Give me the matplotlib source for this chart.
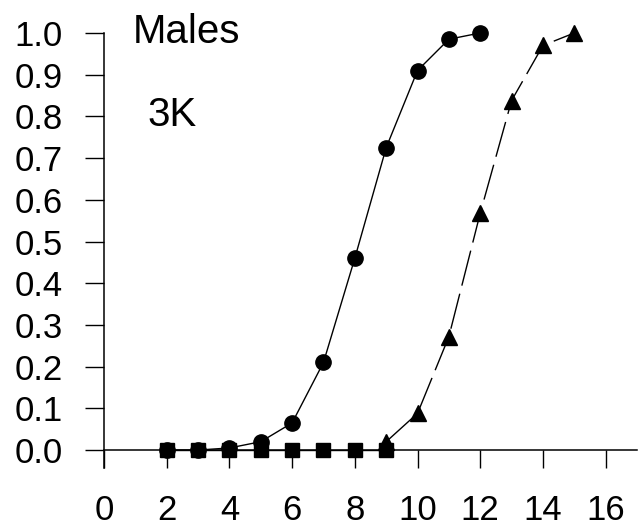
import matplotlib
matplotlib.use("Agg")
import matplotlib.pyplot as plt

# Cumulative proportion of males by age (3K)
x_circle = [2, 3, 4, 5, 6, 7, 8, 9, 10, 11, 12]
y_circle = [0.0, 0.0, 0.005, 0.02, 0.065, 0.21, 0.46, 0.725, 0.91, 0.985, 1.0]

x_triangle = [9, 10, 11, 12, 13, 14, 15]
y_triangle = [0.02, 0.088, 0.272, 0.568, 0.838, 0.97, 1.0]

x_square = [2, 3, 4, 5, 6, 7, 8, 9]
y_square = [0.0, 0.0, 0.0, 0.0, 0.0, 0.0, 0.0, 0.0]

x_ticks = [0, 2, 4, 6, 8, 10, 12, 14, 16]
y_ticks = [0.0, 0.1, 0.2, 0.3, 0.4, 0.5, 0.6, 0.7, 0.8, 0.9, 1.0]

plt.rcParams['font.family'] = ['Liberation Sans', 'DejaVu Sans']

fig = plt.figure(figsize=(6.43, 5.30), dpi=100)
ax = fig.add_axes([0.1617, 0.117, 0.829, 0.8208])

ax.plot(x_square, y_square, color='black', lw=1.0, marker='s', ms=9.5,
        mfc='black', mec='black', clip_on=False, zorder=3)
ax.plot(x_circle, y_circle, color='black', lw=1.0, marker='o', ms=11,
        mfc='black', mec='black', clip_on=False, zorder=4)
ax.plot(x_triangle, y_triangle, color='black', lw=1.0, ls=(0, (26, 6)),
        marker='^', ms=11.5, mfc='black', mec='black', clip_on=False, zorder=4)

ax.set_xlim(0, 17)
ax.set_ylim(-0.043, 1.0)

ax.spines['top'].set_visible(False)
ax.spines['right'].set_visible(False)
ax.spines['bottom'].set_position(('data', 0))
ax.spines['left'].set_linewidth(1.1)
ax.spines['bottom'].set_linewidth(1.1)

ax.set_xticks(x_ticks)
ax.set_xticklabels([str(t) for t in x_ticks])
ax.set_yticks(y_ticks)
ax.set_yticklabels([f"{t:.1f}" for t in y_ticks])

ax.tick_params(axis='y', direction='out', length=13.7, width=1.0,
               labelsize=25, pad=16)
ax.tick_params(axis='x', direction='out', length=13, width=1.0,
               labelsize=25, pad=19)

ax.text(0.93, 0.976, "Males", fontsize=29, ha='left', va='baseline')
ax.text(1.4, 0.777, "3K", fontsize=29, ha='left', va='baseline')

fig.savefig("out.png", dpi=100, facecolor='white')
